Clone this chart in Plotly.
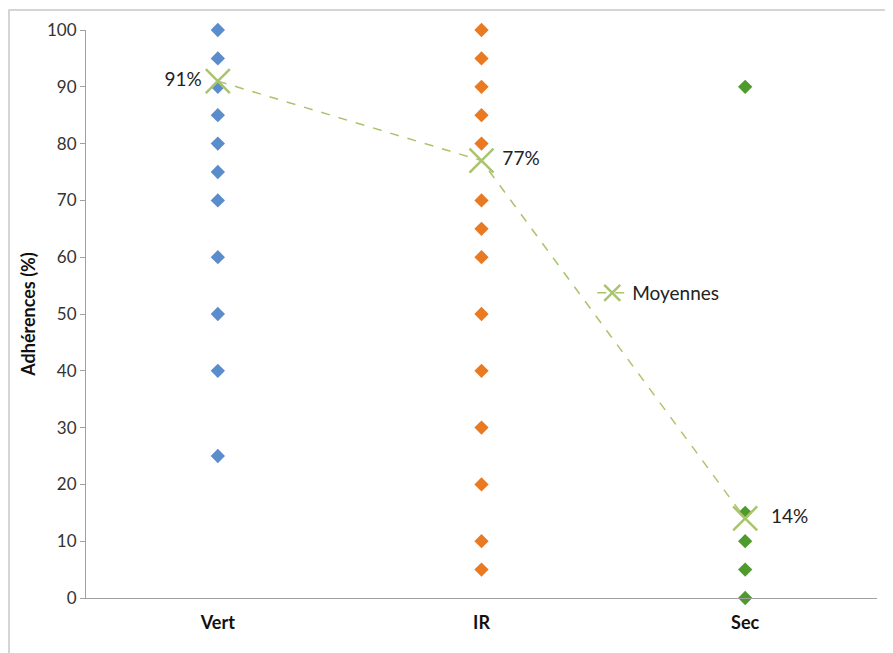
import plotly.graph_objects as go

categories = ["Vert", "IR", "Sec"]
vert_values = [100, 95, 90, 85, 80, 75, 70, 60, 50, 40, 25]
ir_values = [100, 95, 90, 85, 80, 70, 65, 60, 50, 40, 30, 20, 10, 5]
sec_values = [90, 15, 10, 5, 0]
mean_values = [91, 77, 14]
mean_labels = ["91%", " 77%", "  14%"]
y_ticks = [0, 10, 20, 30, 40, 50, 60, 70, 80, 90, 100]

FONT = "Lato, 'Open Sans', sans-serif"

fig = go.Figure()

series = [
    (categories[0], vert_values, "#5B8CCB"),
    (categories[1], ir_values, "#EA7A22"),
    (categories[2], sec_values, "#4F9A2C"),
]
for cat, vals, col in series:
    fig.add_trace(go.Scatter(
        x=[cat] * len(vals), y=vals, mode="markers",
        marker=dict(symbol="diamond", size=11, color=col),
        showlegend=False, cliponaxis=False, hoverinfo="skip",
    ))

fig.add_trace(go.Scatter(
    x=categories, y=mean_values, mode="lines+markers+text",
    name="Moyennes",
    line=dict(color="#A9C46C", width=1.5, dash="dash"),
    marker=dict(symbol="x-thin", size=24, color="#A9C46C",
                line=dict(color="#A9C46C", width=2.5)),
    text=mean_labels,
    textposition=["middle left", "middle right", "middle right"],
    textfont=dict(family=FONT, size=19, color="#222222"),
    cliponaxis=False,
))

fig.update_layout(
    width=885, height=645,
    margin=dict(l=78, r=16, t=22, b=55),
    paper_bgcolor="white", plot_bgcolor="white",
    font=dict(family=FONT, color="#333333"),
    showlegend=True,
    legend=dict(x=0.64, y=0.537, xanchor="left", yanchor="middle",
                bgcolor="rgba(0,0,0,0)", font=dict(family=FONT, size=19, color="#222222")),
    xaxis=dict(
        type="category", categoryorder="array", categoryarray=categories,
        range=[-0.5, 2.5], showgrid=False, zeroline=False,
        showline=True, linecolor="#A0A0A0", linewidth=1,
        ticks="", ticklabelstandoff=8,
        tickfont=dict(family=FONT, size=18, color="#111111", weight="bold"),
        fixedrange=True,
    ),
    yaxis=dict(
        range=[0, 100], tickvals=y_ticks, showgrid=False, zeroline=False,
        showline=True, linecolor="#A0A0A0", linewidth=1,
        ticks="outside", ticklen=5, tickcolor="#A0A0A0",
        tickfont=dict(family=FONT, size=17, color="#333333"),
        title=dict(text="<b>Adhérences (%)</b>", font=dict(family=FONT, size=18, color="#111111"), standoff=6),
        fixedrange=True,
    ),
    shapes=[dict(type="rect", xref="paper", yref="paper",
                 x0=-77/791, x1=1.05, y0=-0.2, y1=1 + 20/568,
                 line=dict(color="#C8C8C8", width=1.5), layer="below")],
)

fig.write_html("out.html")
